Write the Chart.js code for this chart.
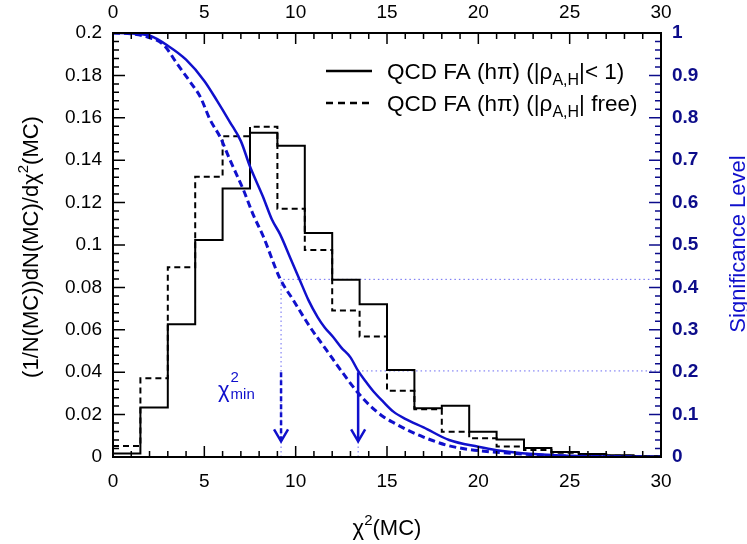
<!DOCTYPE html>
<html>
<head>
<meta charset="utf-8">
<script src="https://cdn.jsdelivr.net/npm/chart.js@4.4.1/dist/chart.umd.min.js"></script>
<style>
html, body { margin: 0; padding: 0; background: #fff; }
</style>
</head>
<body>
<canvas id="chart" width="747" height="544"></canvas>
<script>
// histogram bins (width 1.5 in chi2)
const binEdges = [0, 1.5, 3, 4.5, 6, 7.5, 9, 10.5, 12, 13.5, 15, 16.5, 18, 19.5, 21, 22.5, 24, 25.5, 27, 28.5, 30];
const histBounded = [0.0017, 0.0234, 0.0626, 0.1024, 0.1267, 0.153, 0.1468, 0.1057, 0.0836, 0.072,
                     0.041, 0.023, 0.0242, 0.0119, 0.0082, 0.0042, 0.0024, 0.0014, 0.0008, 0.0004];
const histFree = [0.0052, 0.0371, 0.0895, 0.1322, 0.1513, 0.1558, 0.1171, 0.0976, 0.0691, 0.0568,
                  0.0313, 0.0225, 0.0119, 0.0088, 0.0049, 0.0033, 0.002, 0.001, 0.0006, 0.0003];

// significance level curves (right axis)
const sigBoundedX = [0, 1, 2, 3, 4, 5, 5.7, 6.4, 7, 7.5, 8.2, 8.7, 9.15, 9.7, 10.2, 10.7, 11.2, 11.6, 12.05,
                     12.5, 13, 13.42, 13.8, 14.25, 14.8, 15.35, 16, 17, 18.4, 20, 21, 22.4, 23.5, 25.2, 27, 30];
const sigBounded = [1, 0.999, 0.994, 0.97, 0.937, 0.887, 0.84, 0.79, 0.745, 0.685, 0.615, 0.56, 0.525, 0.47,
                    0.42, 0.37, 0.33, 0.305, 0.283, 0.258, 0.235, 0.203, 0.18, 0.155, 0.13, 0.107, 0.09, 0.07,
                    0.04, 0.024, 0.016, 0.009, 0.006, 0.0025, 0.001, 0];
const sigFreeX = [0, 1, 1.86, 2.77, 3.5, 4.22, 4.77, 5.32, 5.86, 6.41, 7.14, 7.68, 8.23, 9.14, 9.87, 10.78,
                  11.69, 12.6, 13.4, 14.1, 14.8, 15.4, 16.1, 17, 18.25, 19.3, 20.6, 22, 23.35, 25, 27, 30];
const sigFree = [1, 0.998, 0.991, 0.972, 0.928, 0.885, 0.85, 0.795, 0.755, 0.7, 0.63, 0.571, 0.52, 0.421,
                 0.37, 0.307, 0.252, 0.197, 0.152, 0.12, 0.095, 0.08, 0.064, 0.047, 0.028, 0.019, 0.0125,
                 0.008, 0.0047, 0.002, 0.001, 0];

// chi2_min markers
const chiMinFree = 9.2, chiMinBounded = 13.42;
const sigAtMinFree = 0.419, sigAtMinBounded = 0.203;
const arrowFrom = 0.2, arrowTo = 0.037;

const BLUE = '#1010cc';
const LIGHTBLUE = '#6a6af2';
const NAVY = '#0c0c8a';

const histPoints = vals => binEdges.map((e, i) => ({ x: e, y: vals[Math.min(i, vals.length - 1)] }));
const curvePoints = (xs, ys) => xs.map((x, i) => ({ x: x, y: ys[i] }));

const datasets = [
    { data: curvePoints(sigBoundedX, sigBounded), yAxisID: 'y2', borderColor: BLUE, borderWidth: 2.5, cubicInterpolationMode: 'monotone' },
    { data: curvePoints(sigFreeX, sigFree), yAxisID: 'y2', borderColor: BLUE, borderWidth: 3, borderDash: [7, 4], cubicInterpolationMode: 'monotone' },
    { data: [{ x: chiMinBounded, y: arrowFrom }, { x: chiMinBounded, y: arrowTo }], yAxisID: 'y2', borderColor: BLUE, borderWidth: 2.5, arrow: true },
    { data: [{ x: chiMinFree, y: arrowFrom }, { x: chiMinFree, y: arrowTo }], yAxisID: 'y2', borderColor: BLUE, borderWidth: 2.5, borderDash: [5, 3], arrow: true },
    { data: histPoints(histBounded), yAxisID: 'y', borderColor: '#000', borderWidth: 2, stepped: 'before' },
    { data: histPoints(histFree), yAxisID: 'y', borderColor: '#000', borderWidth: 2, borderDash: [6, 4], stepped: 'before' },
    { data: [{ x: chiMinFree, y: 0 }, { x: chiMinFree, y: sigAtMinFree }, { x: 30, y: sigAtMinFree }], yAxisID: 'y2', borderColor: LIGHTBLUE, borderWidth: 1, borderDash: [1.5, 3] },
    { data: [{ x: chiMinBounded, y: 0 }, { x: chiMinBounded, y: sigAtMinBounded }, { x: 30, y: sigAtMinBounded }], yAxisID: 'y2', borderColor: LIGHTBLUE, borderWidth: 1, borderDash: [1.5, 3] }
];
datasets.forEach(d => { d.pointRadius = 0; d.fill = false; });

// draws text pieces with super/subscripts, returns width
function richText(ctx, parts, x, y, measureOnly) {
    let w = 0;
    parts.forEach(p => {
        ctx.font = (p.bold ? 'bold ' : '') + p.size + 'px "Liberation Sans", Arial, sans-serif';
        if (!measureOnly) ctx.fillText(p.t, x + w, y + (p.dy || 0));
        w += ctx.measureText(p.t).width;
    });
    return w;
}

const decorations = {
    id: 'decorations',
    afterDatasetsDraw(chart) {
        const { ctx, chartArea: a, scales } = chart;
        ctx.save();

        // arrow heads
        chart.data.datasets.forEach((ds, i) => {
            if (!ds.arrow) return;
            const pts = chart.getDatasetMeta(i).data;
            const tip = pts[pts.length - 1];
            ctx.strokeStyle = ds.borderColor;
            ctx.lineWidth = 2.5;
            ctx.setLineDash([]);
            ctx.beginPath();
            ctx.moveTo(tip.x - 7, tip.y - 12);
            ctx.lineTo(tip.x, tip.y);
            ctx.lineTo(tip.x + 7, tip.y - 12);
            ctx.stroke();
        });

        // inward ticks
        ctx.lineWidth = 1.5;
        ctx.strokeStyle = '#000';
        ctx.beginPath();
        for (let v = 0; v <= 30; v++) {
            const px = scales.x.getPixelForValue(v);
            const len = v % 5 === 0 ? 11 : 6;
            ctx.moveTo(px, a.bottom); ctx.lineTo(px, a.bottom - len);
            ctx.moveTo(px, a.top); ctx.lineTo(px, a.top + len);
        }
        for (let i = 0; i <= 50; i++) {
            const py = scales.y.getPixelForValue(i * 0.004);
            const len = i % 5 === 0 ? 12 : 6;
            ctx.moveTo(a.left, py); ctx.lineTo(a.left + len, py);
        }
        ctx.stroke();
        ctx.strokeStyle = NAVY;
        ctx.beginPath();
        for (let i = 0; i <= 50; i++) {
            const py = scales.y2.getPixelForValue(i * 0.02);
            const len = i % 5 === 0 ? 12 : 6;
            ctx.moveTo(a.right, py); ctx.lineTo(a.right - len, py);
        }
        ctx.stroke();

        // frame
        ctx.strokeStyle = '#000';
        ctx.lineWidth = 2;
        ctx.strokeRect(a.left, a.top, a.width, a.height);

        // legend
        ctx.lineWidth = 2.5;
        ctx.beginPath();
        ctx.moveTo(326, 71); ctx.lineTo(372, 71);
        ctx.stroke();
        ctx.setLineDash([7, 5]);
        ctx.beginPath();
        ctx.moveTo(326, 103); ctx.lineTo(372, 103);
        ctx.stroke();
        ctx.setLineDash([]);
        ctx.fillStyle = '#000';
        ctx.textBaseline = 'alphabetic';
        ctx.textAlign = 'left';
        richText(ctx, [
            { t: 'QCD FA (h\u03C0) (|\u03C1', size: 22.5 },
            { t: 'A,H', size: 16, dy: 6 },
            { t: '|< 1)', size: 22.5 }
        ], 387, 79);
        richText(ctx, [
            { t: 'QCD FA (h\u03C0) (|\u03C1', size: 22.5 },
            { t: 'A,H', size: 16, dy: 6 },
            { t: '| free)', size: 22.5 }
        ], 387, 111);

        // chi2_min label
        ctx.fillStyle = BLUE;
        ctx.font = '22px "Liberation Sans", Arial, sans-serif';
        ctx.fillText('\u03C7', 218, 397);
        const cw = ctx.measureText('\u03C7').width;
        ctx.font = '15px "Liberation Sans", Arial, sans-serif';
        ctx.fillText('2', 219 + cw, 382);
        ctx.fillText('min', 219 + cw, 399);

        // bottom axis title
        ctx.fillStyle = '#000';
        const xt = [
            { t: '\u03C7', size: 22 }, { t: '2', size: 15, dy: -10 }, { t: '(MC)', size: 22 }
        ];
        const xw = richText(ctx, xt, 0, 0, true);
        richText(ctx, xt, (a.left + a.right) / 2 - xw / 2, 535);

        // left axis title
        const yt = [
            { t: '(1/N(MC))dN(MC)/d\u03C7', size: 22 }, { t: '2', size: 15, dy: -10 }, { t: '(MC)', size: 22 }
        ];
        const yw = richText(ctx, yt, 0, 0, true);
        ctx.save();
        ctx.translate(38, 247);
        ctx.rotate(-Math.PI / 2);
        richText(ctx, yt, -yw / 2, 0);
        ctx.restore();

        // right axis title
        ctx.save();
        ctx.fillStyle = BLUE;
        ctx.font = '22px "Liberation Sans", Arial, sans-serif';
        ctx.textAlign = 'center';
        ctx.translate(745, 244);
        ctx.rotate(-Math.PI / 2);
        ctx.fillText('Significance Level', 0, 0);
        ctx.restore();

        ctx.restore();
    }
};

const tickFont = { family: '"Liberation Sans", Arial, sans-serif', size: 19 };
const fmt = v => String(+v.toFixed(3));

new Chart(document.getElementById('chart'), {
    type: 'line',
    data: { datasets: datasets },
    options: {
        responsive: false,
        animation: false,
        devicePixelRatio: 1,
        layout: { padding: 0 },
        plugins: { legend: { display: false }, tooltip: { enabled: false } },
        scales: {
            x: {
                type: 'linear', position: 'bottom', min: 0, max: 30,
                grid: { display: false, drawTicks: false }, border: { display: false },
                ticks: { stepSize: 5, color: '#000', font: tickFont, padding: 13, maxRotation: 0 },
                afterFit: s => { s.height = 87; }
            },
            x2: {
                type: 'linear', position: 'top', min: 0, max: 30,
                grid: { display: false, drawTicks: false }, border: { display: false },
                ticks: { stepSize: 5, color: '#000', font: tickFont, padding: 9, maxRotation: 0 },
                afterFit: s => { s.height = 33; }
            },
            y: {
                type: 'linear', position: 'left', min: 0, max: 0.2,
                grid: { display: false, drawTicks: false }, border: { display: false },
                ticks: { stepSize: 0.02, color: '#000', font: tickFont, padding: 11, callback: fmt },
                afterFit: s => { s.width = 113; }
            },
            y2: {
                type: 'linear', position: 'right', min: 0, max: 1,
                grid: { display: false, drawTicks: false }, border: { display: false },
                ticks: { stepSize: 0.1, color: NAVY, font: { ...tickFont, weight: 'bold' }, padding: 11, callback: fmt },
                afterFit: s => { s.width = 86; }
            }
        }
    },
    plugins: [decorations]
});
</script>
</body>
</html>
